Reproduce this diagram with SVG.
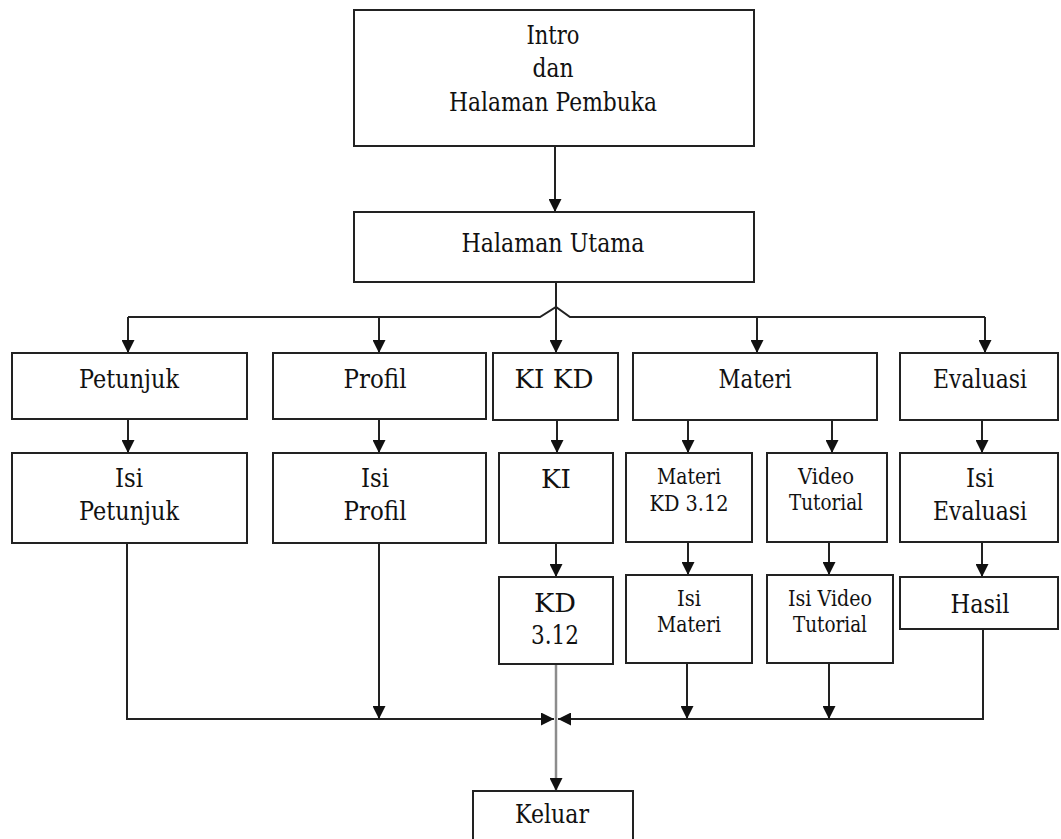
<svg xmlns="http://www.w3.org/2000/svg" width="1061" height="839" viewBox="0 0 1061 839">
  <style>
    .box { fill: #ffffff; stroke: #222222; stroke-width: 2; }
    .t { font-size: 25.5px; fill: #111111; text-anchor: middle; }
    .s { font-size: 21.5px; }
    .ln { fill: none; stroke: #222222; stroke-width: 2; }
    .arr { marker-end: url(#head); }
    .gray { stroke: #8c8c8c; stroke-width: 2.5; }
  </style>
  <defs>
    <marker id="head" markerUnits="userSpaceOnUse" markerWidth="13" markerHeight="13" refX="13" refY="6.5" orient="auto">
      <path d="M0,0 L13,6.5 L0,13 Z" fill="#111111"/>
    </marker>
  </defs>
  <rect width="1061" height="839" fill="#ffffff"/>

  <!-- connectors -->
  <g id="connectors">
    <line class="ln arr" x1="555" y1="146" x2="555" y2="212"/>
    <!-- trunk from main page straight down to KI KD -->
    <line class="ln arr" x1="556" y1="282" x2="556" y2="353"/>
    <!-- branch bus with a hop over the trunk -->
    <path class="ln" d="M128,317 L540,317 L556,307 L570,317 L985,317"/>
    <line class="ln arr" x1="128" y1="317" x2="128" y2="353"/>
    <line class="ln arr" x1="379" y1="317" x2="379" y2="353"/>
    <line class="ln arr" x1="757" y1="317" x2="757" y2="353"/>
    <line class="ln arr" x1="985" y1="317" x2="985" y2="353"/>
    <!-- first to second row -->
    <line class="ln arr" x1="128" y1="419" x2="128" y2="453"/>
    <line class="ln arr" x1="379" y1="419" x2="379" y2="453"/>
    <line class="ln arr" x1="557" y1="420" x2="557" y2="453"/>
    <line class="ln arr" x1="688" y1="420" x2="688" y2="453"/>
    <line class="ln arr" x1="832" y1="420" x2="832" y2="453"/>
    <line class="ln arr" x1="982" y1="420" x2="982" y2="453"/>
    <!-- second to third row -->
    <line class="ln arr" x1="556" y1="543" x2="556" y2="577"/>
    <line class="ln arr" x1="688" y1="542" x2="688" y2="575"/>
    <line class="ln arr" x1="829" y1="542" x2="829" y2="575"/>
    <line class="ln arr" x1="982" y1="542" x2="982" y2="577"/>
    <!-- collecting lines to the exit -->
    <path class="ln arr" d="M127,543 L127,719 L554,719"/>
    <line class="ln arr" x1="379" y1="543" x2="379" y2="719"/>
    <line class="ln arr" x1="687" y1="663" x2="687" y2="719"/>
    <line class="ln arr" x1="829" y1="663" x2="829" y2="719"/>
    <path class="ln arr" d="M983,629 L983,719 L558,719"/>
    <line class="ln gray arr" x1="556" y1="664" x2="556" y2="791"/>
  </g>

  <!-- nodes; widths pinned with textLength so the serif face keeps its set width -->
  <g font-family="DejaVu Serif, Liberation Serif, serif">
  <g id="intro">
    <rect class="box" x="354" y="10" width="400" height="136"/>
    <text class="t" x="553" y="44" textLength="53" lengthAdjust="spacingAndGlyphs">Intro</text>
    <text class="t" x="553" y="77" textLength="41" lengthAdjust="spacingAndGlyphs">dan</text>
    <text class="t" x="553" y="111" textLength="208" lengthAdjust="spacingAndGlyphs">Halaman Pembuka</text>
  </g>
  <g id="halaman-utama">
    <rect class="box" x="354" y="212" width="400" height="70"/>
    <text class="t" x="553" y="252" textLength="183" lengthAdjust="spacingAndGlyphs">Halaman Utama</text>
  </g>

  <g id="petunjuk">
    <rect class="box" x="12" y="353" width="235" height="66"/>
    <text class="t" x="129" y="388" textLength="100" lengthAdjust="spacingAndGlyphs">Petunjuk</text>
  </g>
  <g id="profil">
    <rect class="box" x="273" y="353" width="213" height="66"/>
    <text class="t" x="375" y="388" textLength="63" lengthAdjust="spacingAndGlyphs">Profil</text>
  </g>
  <g id="ki-kd">
    <rect class="box" x="493" y="353" width="125" height="67"/>
    <text class="t" x="554" y="388" textLength="79" lengthAdjust="spacingAndGlyphs">KI KD</text>
  </g>
  <g id="materi">
    <rect class="box" x="633" y="353" width="244" height="67"/>
    <text class="t" x="755" y="388" textLength="73" lengthAdjust="spacingAndGlyphs">Materi</text>
  </g>
  <g id="evaluasi">
    <rect class="box" x="900" y="353" width="158" height="67"/>
    <text class="t" x="980" y="388" textLength="94" lengthAdjust="spacingAndGlyphs">Evaluasi</text>
  </g>

  <g id="isi-petunjuk">
    <rect class="box" x="12" y="453" width="235" height="90"/>
    <text class="t" x="129" y="487" textLength="28" lengthAdjust="spacingAndGlyphs">Isi</text>
    <text class="t" x="129" y="520" textLength="100" lengthAdjust="spacingAndGlyphs">Petunjuk</text>
  </g>
  <g id="isi-profil">
    <rect class="box" x="273" y="453" width="213" height="90"/>
    <text class="t" x="375" y="487" textLength="28" lengthAdjust="spacingAndGlyphs">Isi</text>
    <text class="t" x="375" y="520" textLength="63" lengthAdjust="spacingAndGlyphs">Profil</text>
  </g>
  <g id="ki">
    <rect class="box" x="499" y="453" width="114" height="90"/>
    <text class="t" x="556" y="488" textLength="30" lengthAdjust="spacingAndGlyphs">KI</text>
  </g>
  <g id="materi-kd">
    <rect class="box" x="626" y="453" width="126" height="89"/>
    <text class="t s" x="689" y="484" textLength="64" lengthAdjust="spacingAndGlyphs">Materi</text>
    <text class="t s" x="689" y="511" textLength="79" lengthAdjust="spacingAndGlyphs">KD 3.12</text>
  </g>
  <g id="video-tutorial">
    <rect class="box" x="767" y="453" width="120" height="89"/>
    <text class="t s" x="826" y="484" textLength="56" lengthAdjust="spacingAndGlyphs">Video</text>
    <text class="t s" x="826" y="510" textLength="74" lengthAdjust="spacingAndGlyphs">Tutorial</text>
  </g>
  <g id="isi-evaluasi">
    <rect class="box" x="900" y="453" width="158" height="89"/>
    <text class="t" x="980" y="487" textLength="28" lengthAdjust="spacingAndGlyphs">Isi</text>
    <text class="t" x="980" y="520" textLength="94" lengthAdjust="spacingAndGlyphs">Evaluasi</text>
  </g>

  <g id="kd-312">
    <rect class="box" x="499" y="577" width="114" height="87"/>
    <text class="t" x="555" y="612" textLength="42" lengthAdjust="spacingAndGlyphs">KD</text>
    <text class="t" x="555" y="644" textLength="48" lengthAdjust="spacingAndGlyphs">3.12</text>
  </g>
  <g id="isi-materi">
    <rect class="box" x="626" y="575" width="126" height="88"/>
    <text class="t s" x="689" y="606" textLength="24" lengthAdjust="spacingAndGlyphs">Isi</text>
    <text class="t s" x="689" y="632" textLength="64" lengthAdjust="spacingAndGlyphs">Materi</text>
  </g>
  <g id="isi-video-tutorial">
    <rect class="box" x="767" y="575" width="126" height="88"/>
    <text class="t s" x="830" y="606" textLength="84" lengthAdjust="spacingAndGlyphs">Isi Video</text>
    <text class="t s" x="830" y="632" textLength="74" lengthAdjust="spacingAndGlyphs">Tutorial</text>
  </g>
  <g id="hasil">
    <rect class="box" x="900" y="577" width="158" height="52"/>
    <text class="t" x="980" y="613" textLength="59" lengthAdjust="spacingAndGlyphs">Hasil</text>
  </g>

  <g id="keluar">
    <rect class="box" x="473" y="791" width="160" height="60"/>
    <text class="t" x="552" y="823" textLength="74" lengthAdjust="spacingAndGlyphs">Keluar</text>
  </g>
  </g>
</svg>
